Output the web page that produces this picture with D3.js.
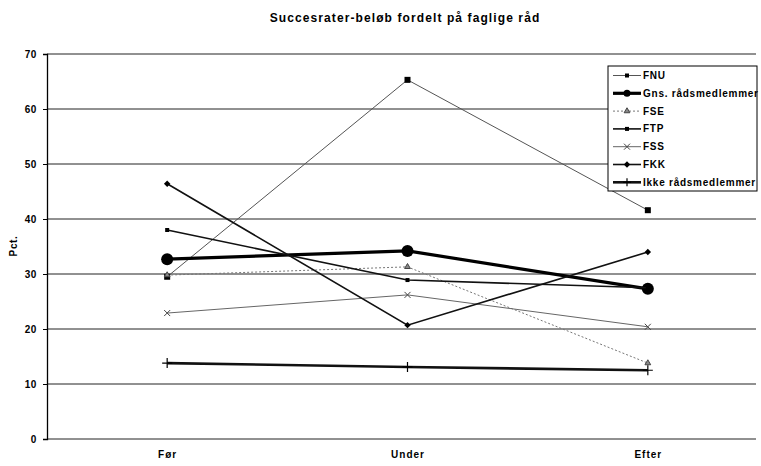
<!DOCTYPE html>
<html><head><meta charset="utf-8">
<script src="https://cdn.jsdelivr.net/npm/d3@7"></script>
<style>body{margin:0;background:#fff}svg{display:block;font-family:"Liberation Sans",Arial,sans-serif}</style>
</head><body>
<script>
const categories = ["Før", "Under", "Efter"];
const seriesNames = ["FNU", "Gns. rådsmedlemmer", "FSE", "FTP", "FSS", "FKK", "Ikke rådsmedlemmer"];
const FNU = [29.5, 65.3, 41.6];
const GNS = [32.7, 34.2, 27.3];
const FSE = [29.8, 31.3, 13.8];
const FTP = [38.0, 28.9, 27.5];
const FSS = [22.9, 26.2, 20.4];
const FKK = [46.4, 20.7, 34.0];
const IKKE = [13.8, 13.1, 12.5];
const yTicks = [0, 10, 20, 30, 40, 50, 60, 70];
const title = "Succesrater-beløb fordelt på faglige råd";
const yLabel = "Pct.";

(function () {
const values = [FNU, GNS, FSE, FTP, FSS, FKK, IKKE];
const styles = [
  {w:1, c:"#555", dash:null, m:"square", ms:6},
  {w:3.2, c:"#000", dash:null, m:"circle", ms:6},
  {w:1, c:"#777", dash:"2,2", m:"triangle", ms:3},
  {w:1.6, c:"#111", dash:null, m:"square", ms:4},
  {w:1, c:"#666", dash:null, m:"x", ms:3},
  {w:1.6, c:"#111", dash:null, m:"diamond", ms:3.2},
  {w:2.6, c:"#111", dash:null, m:"plus", ms:5}
];

const W = 761, H = 466;
const svg = d3.select("body").append("svg").attr("width", W).attr("height", H);
const pLeft = 47, pRight = 768, pTop = 54, pBottom = 439;
const x = d3.scalePoint().domain(categories).range([pLeft, pRight]).padding(0.5);
const y = d3.scaleLinear().domain([0, 70]).range([pBottom, pTop]);

svg.append("text").attr("x", 405).attr("y", 22).attr("text-anchor", "middle")
  .attr("font-size", 12).attr("letter-spacing", 1.1).attr("font-weight", "bold").text(title);

svg.append("g").selectAll("line").data(yTicks).join("line")
  .attr("x1", pLeft).attr("x2", W - 5).attr("y1", d => y(d)).attr("y2", d => y(d))
  .attr("stroke", "#222").attr("stroke-width", 1);

const ya = svg.append("g").attr("transform", `translate(${pLeft},0)`)
  .call(d3.axisLeft(y).tickValues(yTicks).tickSize(4).tickPadding(6));
ya.select(".domain").attr("stroke", "#000").attr("stroke-width", 1.3);
ya.selectAll("text").attr("font-size", 10).attr("letter-spacing", 0.6).attr("font-weight", "bold").attr("font-family", "Liberation Sans, Arial");

svg.append("text").attr("transform", "translate(17,246) rotate(-90)").attr("text-anchor", "middle")
  .attr("font-size", 10).attr("letter-spacing", 0.6).attr("font-weight", "bold").text(yLabel);

const xa = svg.append("g").attr("transform", `translate(0,${pBottom})`)
  .call(d3.axisBottom(x).tickSize(0).tickPadding(12));
xa.select(".domain").remove();
xa.selectAll("text").attr("font-size", 10).attr("letter-spacing", 1).attr("font-weight", "bold").attr("font-family", "Liberation Sans, Arial");

function marker(g, type, s) {
  if (type === "square") g.append("rect").attr("x", -s/2).attr("y", -s/2).attr("width", s).attr("height", s).attr("fill", "#000");
  else if (type === "circle") g.append("circle").attr("r", s).attr("fill", "#000");
  else if (type === "triangle") g.append("path").attr("d", d3.symbol(d3.symbolTriangle, s*s*1.6)()).attr("fill", "#888").attr("stroke", "#444");
  else if (type === "diamond") g.append("path").attr("d", `M0,${-s}L${s},0L0,${s}L${-s},0Z`).attr("fill", "#000");
  else if (type === "x") g.append("path").attr("d", `M${-s},${-s}L${s},${s}M${-s},${s}L${s},${-s}`).attr("stroke", "#444").attr("stroke-width", 1);
  else if (type === "plus") g.append("path").attr("d", `M0,${-s}L0,${s}M${-s},0L${s},0`).attr("stroke", "#000").attr("stroke-width", 1.2);
}

const line = d3.line().x((d, i) => x(categories[i])).y(d => y(d));
values.forEach((vals, k) => {
  const st = styles[k];
  svg.append("path").attr("d", line(vals)).attr("fill", "none").attr("stroke", st.c)
    .attr("stroke-width", st.w).attr("stroke-dasharray", st.dash);
  vals.forEach((v, i) => {
    const g = svg.append("g").attr("transform", `translate(${x(categories[i])},${y(v)})`);
    marker(g, st.m, st.ms);
  });
});

const lg = svg.append("g");
lg.append("rect").attr("x", 608).attr("y", 66).attr("width", 149).attr("height", 125)
  .attr("fill", "#fff").attr("stroke", "#000").attr("stroke-width", 1);
seriesNames.forEach((n, k) => {
  const st = styles[k];
  const yy = 75.5 + k * 17.8;
  lg.append("line").attr("x1", 613).attr("x2", 641).attr("y1", yy).attr("y2", yy)
    .attr("stroke", st.c).attr("stroke-width", st.w).attr("stroke-dasharray", st.dash);
  const g = lg.append("g").attr("transform", `translate(627,${yy})`);
  marker(g, st.m, st.m === "circle" ? 3.5 : Math.min(st.ms, 4));
  lg.append("text").attr("x", 643).attr("y", yy + 3.5).attr("font-size", 10).attr("letter-spacing", 0.75).attr("font-weight", "bold").text(n);
});
})();
</script>
</body></html>
